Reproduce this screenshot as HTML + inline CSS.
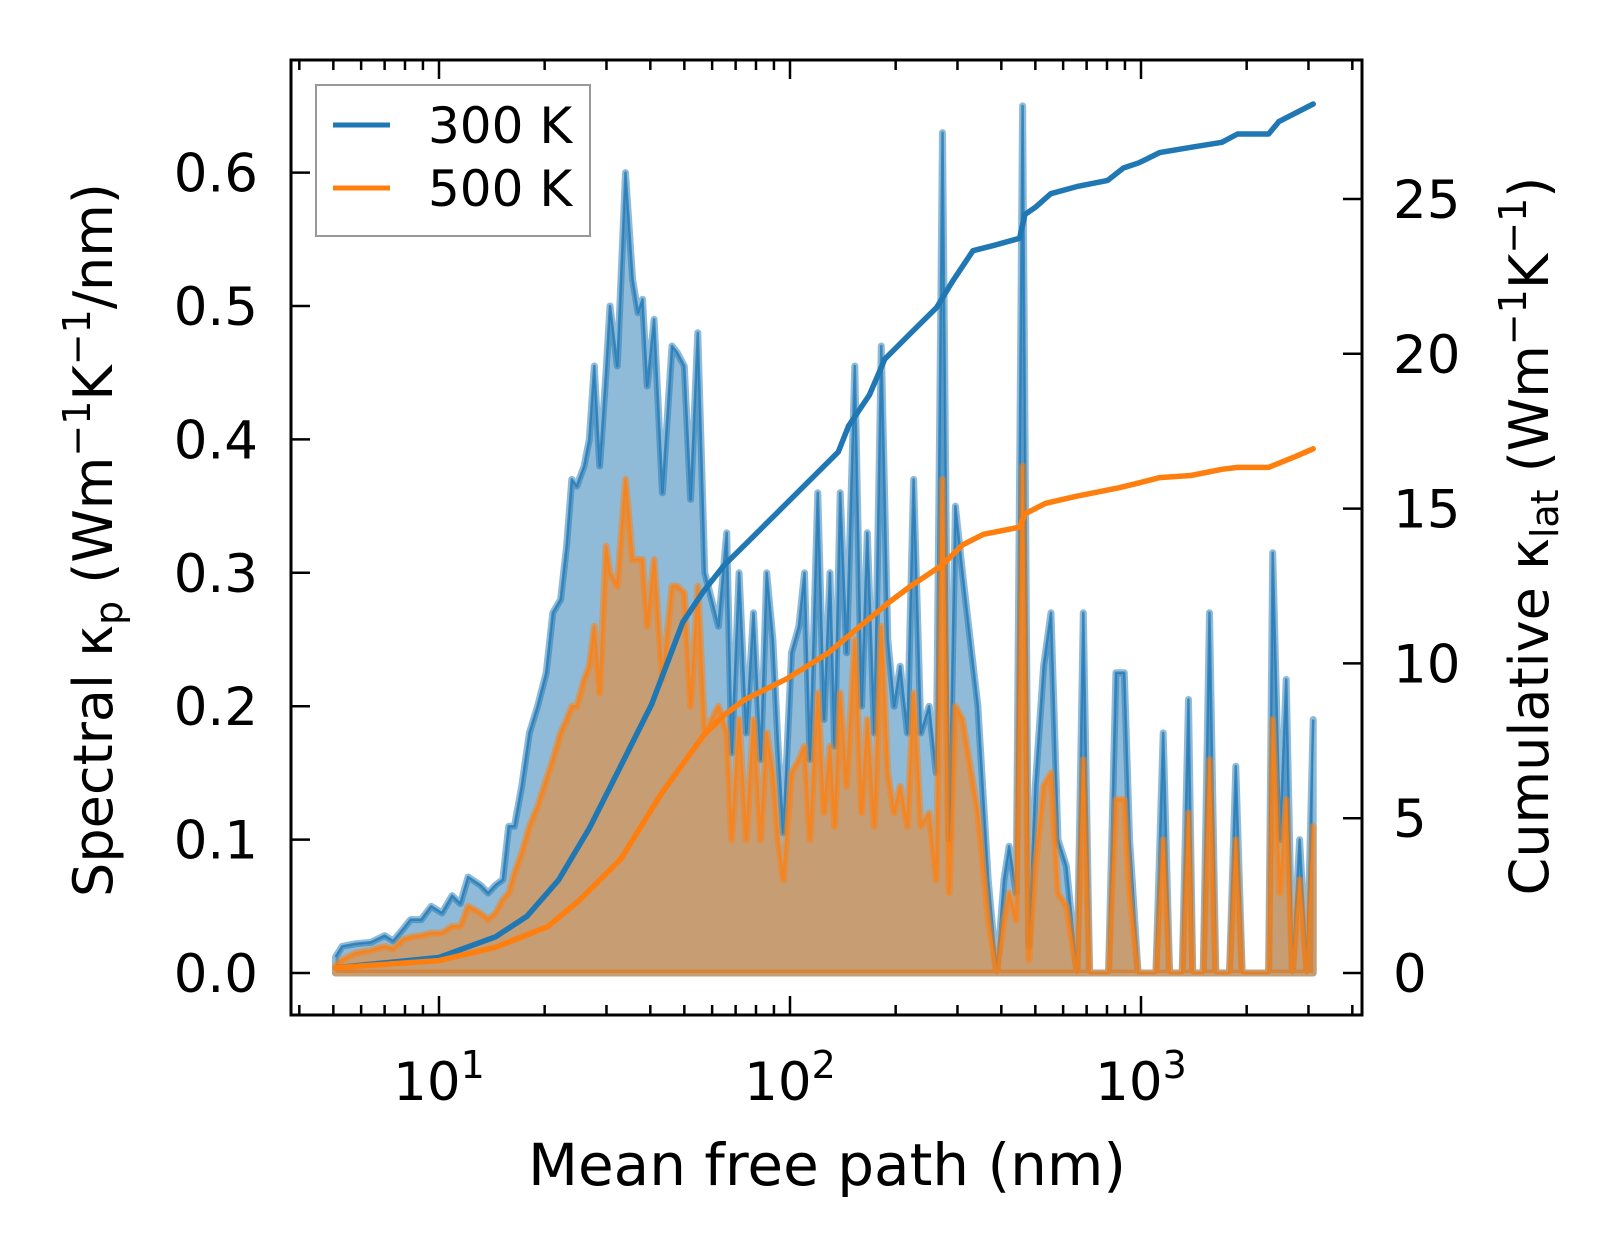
<!DOCTYPE html>
<html><head><meta charset="utf-8"><style>
html,body{margin:0;padding:0;background:#fff;}
svg{display:block;font-family:"DejaVu Sans","Liberation Sans",sans-serif;}
</style></head><body>
<svg id="chart" width="1623" height="1254" viewBox="0 0 1623 1254" xmlns="http://www.w3.org/2000/svg">
<rect width="1623" height="1254" fill="#fff"/>
<g id="plot"></g>
<g id="axes"></g>
</svg>
<script>
// ---- data ----
const specX = [5.07,5.3,5.8,6.4,7.0,7.4,7.9,8.3,8.9,9.5,10.2,10.9,11.5,12.1,13.1,13.8,14.5,15.2,15.8,16.4,17.2,18.1,19.1,20.2,21.1,22.2,23.1,23.9,24.7,25.9,26.8,27.7,28.7,29.9,30.7,32.2,34.0,35.6,36.9,38.0,39.2,41.0,43.3,46.1,47.7,50.0,52.1,54.6,57.2,62.5,66.0,68.2,71.6,75.1,78.7,82.5,85.8,89.4,92.5,95.7,101,106,110,114,120,125,130,134,139,145,153,160,166,174,182,190,198,206,216,225,236,249,261,272,284,296,310,343,367,388,407,421,441,460,479,500,528,554,580,613,657,685,714,808,848,896,928,981,1103,1157,1206,1310,1366,1404,1504,1567,1633,1787,1863,1942,2309,2372,2489,2592,2700,2831,2970,3094];
const spec300 = [0.012,0.02,0.022,0.023,0.028,0.024,0.033,0.04,0.04,0.05,0.045,0.058,0.052,0.072,0.066,0.06,0.066,0.07,0.11,0.11,0.14,0.18,0.2,0.225,0.27,0.28,0.32,0.37,0.365,0.38,0.4,0.455,0.38,0.45,0.5,0.455,0.6,0.52,0.495,0.505,0.44,0.49,0.36,0.47,0.465,0.455,0.355,0.48,0.3,0.26,0.33,0.165,0.3,0.18,0.27,0.16,0.3,0.25,0.17,0.105,0.24,0.26,0.3,0.16,0.36,0.19,0.3,0.17,0.36,0.24,0.455,0.2,0.33,0.18,0.47,0.25,0.2,0.23,0.18,0.37,0.18,0.2,0.15,0.63,0.1,0.35,0.3,0.2,0.07,0.0,0.07,0.095,0.06,0.65,0.02,0.14,0.23,0.27,0.1,0.08,0.0,0.27,0.0,0.0,0.225,0.225,0.1,0.0,0.0,0.18,0.0,0.0,0.205,0.0,0.0,0.27,0.0,0.0,0.155,0.0,0.0,0.315,0.1,0.22,0.0,0.1,0.0,0.19];
const spec500 = [0.005,0.01,0.015,0.017,0.02,0.018,0.025,0.027,0.028,0.03,0.03,0.035,0.035,0.05,0.045,0.04,0.045,0.055,0.06,0.075,0.09,0.11,0.125,0.145,0.16,0.18,0.19,0.2,0.2,0.22,0.23,0.26,0.21,0.32,0.3,0.29,0.37,0.31,0.31,0.31,0.26,0.31,0.22,0.29,0.29,0.285,0.2,0.29,0.18,0.2,0.18,0.1,0.19,0.1,0.19,0.1,0.18,0.15,0.1,0.07,0.15,0.16,0.17,0.1,0.21,0.12,0.17,0.11,0.21,0.14,0.25,0.12,0.19,0.11,0.26,0.15,0.12,0.14,0.11,0.21,0.11,0.12,0.07,0.37,0.06,0.2,0.19,0.12,0.04,0.0,0.04,0.06,0.04,0.38,0.01,0.08,0.14,0.15,0.06,0.05,0.0,0.16,0.0,0.0,0.13,0.13,0.06,0.0,0.0,0.1,0.0,0.0,0.12,0.0,0.0,0.16,0.0,0.0,0.1,0.0,0.0,0.19,0.06,0.13,0.0,0.07,0.0,0.11];
const cum300X = [5.07,10,14.5,17.8,21.9,26.8,32.9,40.3,49.5,56.7,64.9,74.4,91.2,111.9,137.3,146.9,168.3,186.3,220.9,261.8,290,332.2,380.6,451.1,466.9,499.5,553.4,656,804,891,986,1130,1387,1700,1883,2309,2471,3094];
const cum300 = [0.17,0.5,1.17,1.83,3.0,4.67,6.67,8.67,11.33,12.33,13.17,13.83,14.83,15.83,16.83,17.67,18.67,19.83,20.67,21.5,22.33,23.33,23.5,23.73,24.5,24.73,25.17,25.4,25.6,26.0,26.17,26.5,26.67,26.83,27.1,27.1,27.5,28.07];
const cum500X = [5.07,10,14.5,20.4,25.0,32.9,43.2,56.7,64.9,74.4,97.7,128.2,157.2,192.8,220.9,270.9,310.4,355.6,451.1,466.9,534.8,656,861,986,1130,1387,1700,1883,2309,2736,3094];
const cum500 = [0.17,0.4,0.83,1.5,2.33,3.67,5.83,7.67,8.33,8.83,9.5,10.33,11.17,12.0,12.5,13.17,13.83,14.17,14.4,14.83,15.17,15.4,15.67,15.83,16.0,16.07,16.27,16.33,16.33,16.67,16.93];
const leftTicks = [0.0,0.1,0.2,0.3,0.4,0.5,0.6];
const leftTickLabels = ["0.0","0.1","0.2","0.3","0.4","0.5","0.6"];
const rightTicks = [0,5,10,15,20,25];
const xDecades = [1,2,3];

// ---- axes functions ----
const L=291,R=1362,T=60,B=1015;
const X=v=>439+(Math.log10(v)-1)*351;
const YL=v=>973-v*1334;
const YR=v=>973-v*30.96;
const NS="http://www.w3.org/2000/svg";
const plot=document.getElementById('plot'), axes=document.getElementById('axes');
function mk(tag,attrs,parent){const e=document.createElementNS(NS,tag);for(const k in attrs)e.setAttribute(k,attrs[k]);parent.appendChild(e);return e;}

function spectral(ys,color,name){
  let d='M'+X(specX[0])+','+YL(0);
  specX.forEach((x,i)=>{d+=' L'+X(x).toFixed(1)+','+YL(ys[i]).toFixed(1);});
  d+=' L'+X(specX[specX.length-1])+','+YL(0)+' Z';
  const f=mk('path',{d:d,fill:color,'fill-opacity':0.5,stroke:color,'stroke-opacity':0.5,'stroke-width':7,'stroke-linejoin':'round'},plot);
  
  
  let d2='';
  specX.forEach((x,i)=>{d2+=(i?' L':'M')+X(x).toFixed(1)+','+YL(ys[i]).toFixed(1);});
  const l=mk('path',{d:d2,fill:'none',stroke:color,'stroke-opacity':0.75,'stroke-width':2.5,'stroke-linejoin':'round'},plot);
  
  
}
spectral(spec300,'#1f77b4','spectral-300k');
spectral(spec500,'#ff7f0e','spectral-500k');

function cum(xs,ys,color,name){
  let d='';
  xs.forEach((x,i)=>{d+=(i?' L':'M')+X(x).toFixed(1)+','+YR(ys[i]).toFixed(1);});
  const p=mk('path',{d:d,fill:'none',stroke:color,'stroke-width':5.5,'stroke-linejoin':'round','stroke-linecap':'round'},plot);
  
  
}
cum(cum300X,cum300,'#1f77b4','cumulative-300k');
cum(cum500X,cum500,'#ff7f0e','cumulative-500k');

// frame
const fr=mk('rect',{x:L,y:T,width:R-L,height:B-T,fill:'none',stroke:'#000','stroke-width':3},axes);



// x ticks
for(let dec=0;dec<=4;dec++){
  for(let m=1;m<=9;m++){
    const v=m*Math.pow(10,dec);const px=X(v);
    if(px<L+2||px>R-2)continue;
    const len=m===1?19:10;
    mk('line',{x1:px,y1:B,x2:px,y2:B-len,stroke:'#000','stroke-width':2.5},axes);
    mk('line',{x1:px,y1:T,x2:px,y2:T+len,stroke:'#000','stroke-width':2.5},axes);
  }
}
xDecades.forEach(p=>{
  const t=mk('text',{x:X(Math.pow(10,p)),y:1100,'font-size':53,'text-anchor':'middle'},axes);
  
  
  t.innerHTML='10<tspan dy="-22" font-size="38">'+p+'</tspan>';
});
leftTicks.forEach((v,i)=>{
  mk('line',{x1:L,y1:YL(v),x2:L+19,y2:YL(v),stroke:'#000','stroke-width':2.5},axes);
  const t=mk('text',{x:258,y:YL(v)+19,'font-size':53,'text-anchor':'end'},axes);
  
  
  t.textContent=leftTickLabels[i];
});
rightTicks.forEach(v=>{
  mk('line',{x1:R,y1:YR(v),x2:R-19,y2:YR(v),stroke:'#000','stroke-width':2.5},axes);
  const t=mk('text',{x:1393,y:YR(v)+19,'font-size':53,'text-anchor':'start'},axes);
  
  
  t.textContent=String(v);
});
</script>
<svg style="position:absolute;left:0;top:0" width="1623" height="1254" xmlns="http://www.w3.org/2000/svg" font-family="DejaVu Sans, Liberation Sans, sans-serif">
<text x="827" y="1185" font-size="58" text-anchor="middle">Mean free path (nm)</text>
<text transform="translate(112,540) rotate(-90)" font-size="54" text-anchor="middle">Spectral κ<tspan dy="10" font-size="38">p</tspan><tspan dy="-10"> (Wm</tspan><tspan dy="-22" font-size="38">−1</tspan><tspan dy="22">K</tspan><tspan dy="-22" font-size="38">−1</tspan><tspan dy="22">/nm)</tspan></text>
<text transform="translate(1548,536) rotate(-90)" font-size="54" text-anchor="middle">Cumulative κ<tspan dy="10" font-size="38">lat</tspan><tspan dy="-10"> (Wm</tspan><tspan dy="-22" font-size="38">−1</tspan><tspan dy="22">K</tspan><tspan dy="-22" font-size="38">−1</tspan><tspan dy="22">)</tspan></text>
<g>
<rect x="316" y="85" width="274" height="151" fill="#fff" fill-opacity="0.8" stroke="#999" stroke-width="2"/>
<line x1="333" y1="125" x2="390" y2="125" stroke="#1f77b4" stroke-width="5"/>
<text x="428" y="143" font-size="50">300 K</text>
<line x1="333" y1="188" x2="390" y2="188" stroke="#ff7f0e" stroke-width="5"/>
<text x="428" y="206" font-size="50">500 K</text>
</g>
</svg>
</body></html>
